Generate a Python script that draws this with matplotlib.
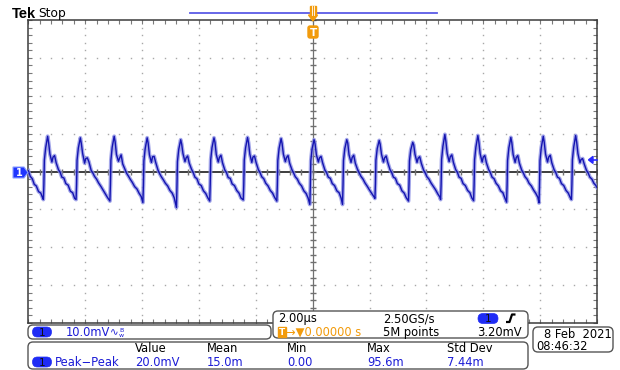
import numpy as np
import matplotlib
matplotlib.use("Agg")
import matplotlib.pyplot as plt
from matplotlib.patches import FancyBboxPatch, Polygon, Rectangle

time_us = [
    -10.00, -9.93, -9.86, -9.79, -9.72, -9.64, -9.56, -9.50,
    -9.470, -9.452, -9.435, -9.390, -9.320, -9.285, -9.240, -9.170, -9.130, -9.075, -9.020, -8.940, -8.880, -8.820, -8.750, -8.680, -8.600, -8.520, -8.440, -8.370,
    -8.320, -8.302, -8.285, -8.240, -8.170, -8.135, -8.090, -8.020, -7.980, -7.925, -7.870, -7.790, -7.730, -7.670, -7.600, -7.530, -7.450, -7.370, -7.290, -7.220,
    -7.130, -7.112, -7.095, -7.050, -6.980, -6.945, -6.900, -6.830, -6.790, -6.735, -6.680, -6.600, -6.540, -6.480, -6.410, -6.340, -6.260, -6.180, -6.100, -6.030,
    -5.970, -5.952, -5.935, -5.890, -5.820, -5.785, -5.740, -5.670, -5.630, -5.575, -5.520, -5.440, -5.380, -5.320, -5.250, -5.180, -5.100, -5.020, -4.940, -4.870,
    -4.790, -4.772, -4.755, -4.710, -4.640, -4.605, -4.560, -4.490, -4.450, -4.395, -4.340, -4.260, -4.200, -4.140, -4.070, -4.000, -3.920, -3.840, -3.760, -3.690,
    -3.620, -3.602, -3.585, -3.540, -3.470, -3.435, -3.390, -3.320, -3.280, -3.225, -3.170, -3.090, -3.030, -2.970, -2.900, -2.830, -2.750, -2.670, -2.590, -2.520,
    -2.440, -2.422, -2.405, -2.360, -2.290, -2.255, -2.210, -2.140, -2.100, -2.045, -1.990, -1.910, -1.850, -1.790, -1.720, -1.650, -1.570, -1.490, -1.410, -1.340,
    -1.260, -1.242, -1.225, -1.180, -1.110, -1.075, -1.030, -0.960, -0.920, -0.865, -0.810, -0.730, -0.670, -0.610, -0.540, -0.470, -0.390, -0.310, -0.230, -0.160,
    -0.100, -0.082, -0.065, -0.020, 0.050, 0.085, 0.130, 0.200, 0.240, 0.295, 0.350, 0.430, 0.490, 0.550, 0.620, 0.690, 0.770, 0.850, 0.930, 1.000,
    1.050, 1.068, 1.085, 1.130, 1.200, 1.235, 1.280, 1.350, 1.390, 1.445, 1.500, 1.580, 1.640, 1.700, 1.770, 1.840, 1.920, 2.000, 2.080, 2.150,
    2.190, 2.208, 2.225, 2.270, 2.340, 2.375, 2.420, 2.490, 2.530, 2.585, 2.640, 2.720, 2.780, 2.840, 2.910, 2.980, 3.060, 3.140, 3.220, 3.290,
    3.370, 3.388, 3.405, 3.450, 3.520, 3.555, 3.600, 3.670, 3.710, 3.765, 3.820, 3.900, 3.960, 4.020, 4.090, 4.160, 4.240, 4.320, 4.400, 4.470,
    4.500, 4.518, 4.535, 4.580, 4.650, 4.685, 4.730, 4.800, 4.840, 4.895, 4.950, 5.030, 5.090, 5.150, 5.220, 5.290, 5.370, 5.450, 5.530, 5.600,
    5.660, 5.678, 5.695, 5.740, 5.810, 5.845, 5.890, 5.960, 6.000, 6.055, 6.110, 6.190, 6.250, 6.310, 6.380, 6.450, 6.530, 6.610, 6.690, 6.760,
    6.820, 6.838, 6.855, 6.900, 6.970, 7.005, 7.050, 7.120, 7.160, 7.215, 7.270, 7.350, 7.410, 7.470, 7.540, 7.610, 7.690, 7.770, 7.850, 7.920,
    7.960, 7.978, 7.995, 8.040, 8.110, 8.145, 8.190, 8.260, 8.300, 8.355, 8.410, 8.490, 8.550, 8.610, 8.680, 8.750, 8.830, 8.910, 8.990, 9.060,
    9.100, 9.118, 9.135, 9.180, 9.250, 9.285, 9.330, 9.400, 9.440, 9.495, 9.550, 9.630, 9.690, 9.750, 9.820, 9.890, 9.950, 10.000,
]
ch1_mv = [
    0.2, -1.3, -1.9, -3.4, -3.8, -5.3, -5.7, -6.9,
    -7.4, -3.5, 3.0, 6.2, 9.3, 7.6, 4.6, 2.5, 3.8, 4.2, 2.3, 0.5, -0.2, -1.5, -1.7, -3.2, -3.6, -5.2, -5.6, -7.1,
    -7.4, -3.5, 3.0, 6.2, 8.9, 7.4, 4.8, 2.2, 3.4, 3.6, 2.6, 0.3, -0.4, -1.3, -2.0, -3.0, -3.9, -4.9, -5.9, -6.8,
    -7.8, -3.5, 3.0, 6.4, 9.3, 7.8, 4.5, 2.7, 3.5, 4.4, 2.0, 0.6, -0.5, -1.2, -2.1, -2.9, -4.0, -4.6, -5.8, -6.6,
    -8.2, -3.8, 2.8, 6.0, 8.9, 7.5, 4.4, 2.4, 3.9, 4.0, 2.4, 0.4, -0.6, -1.4, -2.2, -3.1, -3.8, -5.0, -5.7, -6.9,
    -9.5, -4.0, 2.6, 5.8, 8.4, 7.2, 4.7, 2.6, 3.6, 4.1, 2.2, 0.6, -0.3, -1.5, -1.9, -3.3, -3.7, -5.1, -5.8, -6.9,
    -7.8, -3.4, 3.1, 6.3, 8.9, 7.7, 4.5, 2.5, 3.7, 4.3, 2.3, 0.4, -0.3, -1.6, -1.8, -3.3, -3.7, -5.0, -5.7, -7.0,
    -7.5, -3.5, 3.0, 6.2, 9.0, 7.6, 4.6, 2.4, 3.8, 4.1, 2.4, 0.5, -0.3, -1.4, -1.9, -3.1, -3.8, -5.0, -5.7, -6.8,
    -7.8, -3.6, 2.9, 6.1, 8.7, 7.4, 4.6, 2.6, 3.7, 4.2, 2.2, 0.5, -0.4, -1.4, -2.0, -3.1, -3.8, -5.1, -5.8, -7.0,
    -8.7, -3.8, 2.8, 6.0, 8.4, 7.3, 4.5, 2.5, 3.6, 4.0, 2.3, 0.4, -0.3, -1.5, -1.8, -3.2, -3.7, -5.1, -5.6, -7.0,
    -8.7, -3.7, 2.9, 6.0, 8.4, 7.5, 4.4, 2.4, 3.7, 4.3, 2.2, 0.5, -0.4, -1.3, -2.0, -3.0, -3.9, -4.9, -5.8, -6.6,
    -7.1, -3.3, 3.0, 6.0, 8.2, 7.2, 4.6, 2.5, 3.6, 4.1, 2.4, 0.5, -0.3, -1.5, -1.8, -3.2, -3.6, -5.1, -5.7, -6.9,
    -7.8, -3.5, 2.8, 5.7, 7.7, 7.0, 4.5, 2.4, 3.5, 3.9, 2.2, 0.4, -0.4, -1.4, -2.0, -3.0, -3.9, -4.8, -5.9, -6.7,
    -7.4, -3.4, 3.2, 6.6, 9.8, 8.0, 4.8, 2.6, 3.9, 4.4, 2.4, 0.5, -0.2, -1.5, -1.8, -3.2, -3.7, -5.0, -5.6, -7.0,
    -7.7, -3.5, 3.1, 6.4, 9.5, 7.8, 4.7, 2.5, 3.8, 4.2, 2.3, 0.5, -0.3, -1.5, -1.9, -3.1, -3.8, -5.1, -5.6, -7.0,
    -8.1, -3.7, 2.9, 6.2, 9.0, 7.6, 4.5, 2.4, 3.7, 4.2, 2.2, 0.4, -0.4, -1.4, -2.0, -3.1, -3.8, -4.9, -5.8, -6.8,
    -8.3, -3.8, 2.9, 6.3, 9.3, 7.7, 4.6, 2.5, 3.8, 4.3, 2.3, 0.5, -0.3, -1.5, -1.8, -3.2, -3.7, -5.0, -5.7, -6.9,
    -7.4, -3.4, 3.1, 6.4, 9.5, 7.8, 4.7, 2.3, 3.2, 3.4, 2.0, 0.3, -0.4, -1.5, -2.0, -3.1, -3.6, -4.2,
]

h_divs_us = [-8, -6, -4, -2, 2, 4, 6, 8]
v_divs_mv = [-30, -20, -10, 10, 20, 30]
trigger_level_mv = 3.2

meas_headers = ["Value", "Mean", "Min", "Max", "Std Dev"]
meas_values = ["20.0mV", "15.0m", "0.00", "95.6m", "7.44m"]

# ---------------- styles ----------------
W, H = 620, 370
BLUE = "#1c1cd6"
TRACE = "#1414b0"
HALO = "#8c90e4"
ORANGE = "#f29b0c"
GRIDC = "#a8a8a8"
FRAME = "#3c3c3c"

fig = plt.figure(figsize=(W / 100, H / 100), dpi=100)
fig.patch.set_facecolor("white")

L, R, T, B = 28.3, 597.0, 20.0, 323.0
ax = fig.add_axes([L / W, 1 - B / H, (R - L) / W, (B - T) / H])
ax.set_xlim(-10, 10)
ax.set_ylim(-40, 40)
for s in ax.spines.values():
    s.set_color(FRAME)
    s.set_linewidth(1.1)
ax.set_xticks(np.arange(-10, 10.001, 0.4))
ax.set_yticks(np.arange(-40, 40.001, 2))
ax.tick_params(which="both", direction="in", length=3, width=0.8, color="#7a7a7a",
               top=True, right=True, labelbottom=False, labelleft=False)

# dotted graticule
minor_x = np.arange(-10, 10.001, 0.4)
minor_y = np.arange(-40, 40.001, 2)
for xv in h_divs_us:
    ax.plot(np.full_like(minor_y, xv), minor_y, ls="none", marker="s", ms=1.0,
            color=GRIDC, mew=0, zorder=1)
for yv in v_divs_mv:
    ax.plot(minor_x, np.full_like(minor_x, yv), ls="none", marker="s", ms=1.0,
            color=GRIDC, mew=0, zorder=1)

# centre crosshair
ax.axhline(0, color="#2e2e2e", lw=1.3, zorder=2)
ax.axvline(0, color="#707070", lw=0.9, zorder=2)
ax.plot(minor_x, np.zeros_like(minor_x), ls="none", marker="|", ms=4, color="#707070", zorder=2)
ax.plot(np.zeros_like(minor_y), minor_y, ls="none", marker="_", ms=4, color="#707070", zorder=2)

# waveform (noise envelope + core trace)
ax.plot(time_us, ch1_mv, color=HALO, lw=2.8, alpha=0.8, zorder=3, solid_joinstyle="round")
ax.plot(time_us, ch1_mv, color=TRACE, lw=1.0, zorder=4, solid_joinstyle="round")

# ---------------- overlay for the scope UI ----------------
ov = fig.add_axes([0, 0, 1, 1], zorder=5)
ov.set_xlim(0, W)
ov.set_ylim(H, 0)
ov.axis("off")

FS = 8.3


def rbox(x0, y0, x1, y1, r=4, ec="#555555", lw=1.0):
    p = FancyBboxPatch((x0, y0), x1 - x0, y1 - y0,
                       boxstyle=f"round,pad=0,rounding_size={r}",
                       fc="white", ec=ec, lw=lw, zorder=6)
    ov.add_patch(p)


def pill(cx, cy, w=19, h=10):
    p = FancyBboxPatch((cx - w / 2, cy - h / 2), w, h,
                       boxstyle=f"round,pad=0,rounding_size={h / 2}",
                       fc="#1f2cf5", ec="#1f2cf5", lw=0.5, zorder=7)
    ov.add_patch(p)
    ov.text(cx, cy + 0.5, "1", ha="center", va="center", fontsize=7.5,
            color="#111111", zorder=8)


# header
ov.text(12, 14.5, "Tek", ha="left", va="center", fontsize=10.5, fontweight="bold",
        family="Liberation Sans", color="black")
ov.text(38, 14, "Stop", ha="left", va="center", fontsize=8.8, family="DejaVu Sans",
        color="black")
ov.plot([190, 437], [13, 13], color="#5a5ae6", lw=1.3, zorder=6)
# trigger position markers
ov.add_patch(Rectangle((310, 6), 6, 10, fc=ORANGE, ec=ORANGE, zorder=7))
ov.add_patch(Polygon([[308.5, 15], [317.5, 15], [313, 21]], closed=True, fc=ORANGE,
                     ec=ORANGE, zorder=7))
ov.plot([312, 312], [6, 15], color="white", lw=0.6, zorder=8)
ov.plot([314, 314], [6, 15], color="white", lw=0.6, zorder=8)
ov.add_patch(FancyBboxPatch((308, 26), 10, 12, boxstyle="round,pad=0,rounding_size=2",
                            fc=ORANGE, ec=ORANGE, zorder=7))
ov.text(313, 32.5, "T", ha="center", va="center", fontsize=7.5, fontweight="bold",
        color="white", zorder=8)

# channel ground marker (left)
ov.add_patch(Polygon([[13, 167], [24, 167], [28, 172.5], [24, 178], [13, 178]],
                     closed=True, fc="#1f35ff", ec="#8da0ff", lw=0.8, zorder=7))
ov.text(19, 172.8, "1", ha="center", va="center", fontsize=7, fontweight="bold",
        color="white", zorder=8)

# trigger level marker (right)
ty = 172 - trigger_level_mv * (B - T) / 80
ov.add_patch(Polygon([[588.5, ty], [593, ty - 3.5], [593, ty + 3.5]], closed=True,
                     fc="#2a2aff", ec="#2a2aff", zorder=7))
ov.plot([592, 597], [ty, ty], color="#2a2aff", lw=1.2, zorder=7)

# channel scale panel
rbox(28, 325, 271, 339, r=5)
pill(42, 332)
ov.text(66, 332.5, "10.0mV", ha="left", va="center", fontsize=FS, color=BLUE, zorder=8)
ov.text(110, 332.5, "\u223f", ha="left", va="center", fontsize=7.5, color=BLUE, zorder=8)
ov.text(119, 330, "B", ha="left", va="center", fontsize=4.5, color=BLUE, zorder=8)
ov.text(119, 335.5, "w", ha="left", va="center", fontsize=4.5, color=BLUE, zorder=8)

# horizontal / trigger panel
rbox(273, 311, 528, 338, r=5)
ov.text(278, 318.5, "2.00\u00b5s", ha="left", va="center", fontsize=FS, color="black", zorder=8)
ov.text(383, 318.5, "2.50GS/s", ha="left", va="center", fontsize=FS, color="black", zorder=8)
pill(488, 318.5, w=20)
ov.plot([506, 509.5, 512, 515.5], [322, 322, 314.5, 314.5], color="black", lw=1.6,
        zorder=8, solid_capstyle="butt")
ov.add_patch(Rectangle((278, 327), 8, 10, fc=ORANGE, ec=ORANGE, zorder=7))
ov.text(282, 332.5, "T", ha="center", va="center", fontsize=6.5, fontweight="bold",
        color="white", zorder=8)
ov.text(286, 332.5, "\u2192\u25bc0.00000 s", ha="left", va="center", fontsize=FS,
        color=ORANGE, zorder=8)
ov.text(383, 332.5, "5M points", ha="left", va="center", fontsize=FS, color="black", zorder=8)
ov.text(522, 332.5, "3.20mV", ha="right", va="center", fontsize=FS, color="black", zorder=8)

# date panel
rbox(533, 327, 613, 352, r=5)
ov.text(544, 334, "8 Feb  2021", ha="left", va="center", fontsize=FS, color="black", zorder=8)
ov.text(536, 346.5, "08:46:32", ha="left", va="center", fontsize=FS, color="black", zorder=8)

# measurement panel
rbox(28, 342, 528, 369, r=5)
col_x = [135, 207, 287, 367, 447]
for x, hdr, val in zip(col_x, meas_headers, meas_values):
    ov.text(x, 349, hdr, ha="left", va="center", fontsize=FS, color="black", zorder=8)
    ov.text(x, 362, val, ha="left", va="center", fontsize=FS, color=BLUE, zorder=8)
pill(42, 362)
ov.text(55, 362, "Peak\u2212Peak", ha="left", va="center", fontsize=FS, color=BLUE, zorder=8)

fig.savefig("out.png", dpi=100, facecolor="white")
